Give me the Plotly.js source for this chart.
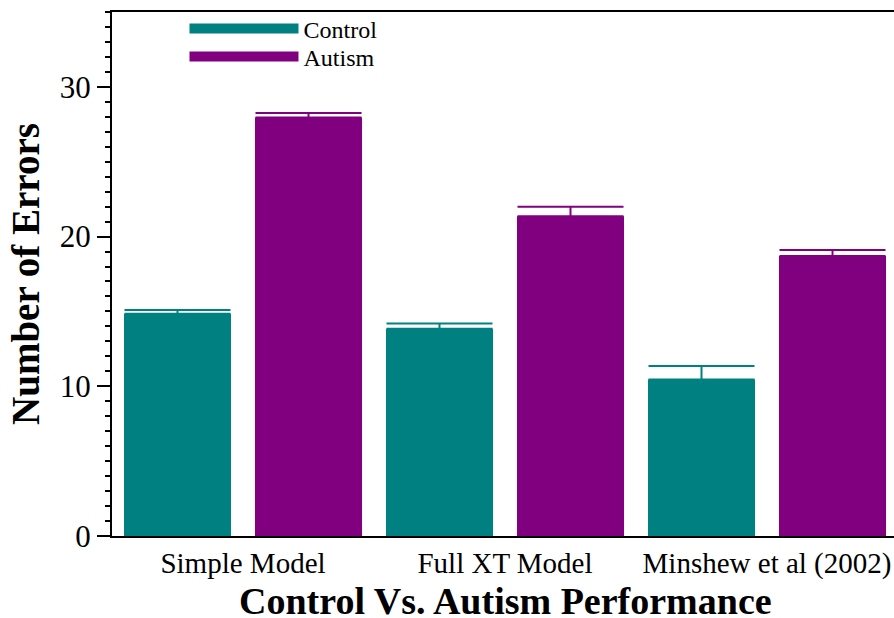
<!DOCTYPE html>
<html>
<head>
<meta charset="utf-8">
<script src="https://cdn.plot.ly/plotly-3.0.1.min.js"></script>
<style>html,body{margin:0;padding:0;background:#fff;}#chart{width:894px;height:618px;}</style>
</head>
<body>
<div id="chart"></div>
<script>
const categories = ["Simple Model", "Full XT Model", "Minshew et al (2002)"];
const seriesNames = ["Control", "Autism"];
const controlValues = [14.85, 13.85, 10.45];
const controlErrors = [0.25, 0.35, 0.9];
const autismValues = [27.95, 21.35, 18.7];
const autismErrors = [0.3, 0.65, 0.4];
const yTickVals = [0, 10, 20, 30];
const xTitle = "Control Vs. Autism Performance";
const yTitle = "Number of Errors";

const teal = "#008080";
const purple = "#800080";
const serif = "Liberation Serif";

const traces = [
  {
    type: "bar", name: seriesNames[0], x: categories, y: controlValues,
    marker: {color: teal, line: {width: 0}}, showlegend: false,
    error_y: {type: "data", symmetric: false, array: controlErrors, arrayminus: [0,0,0],
              color: teal, thickness: 2, width: 53}
  },
  {
    type: "bar", name: seriesNames[1], x: categories, y: autismValues,
    marker: {color: purple, line: {width: 0}}, showlegend: false,
    error_y: {type: "data", symmetric: false, array: autismErrors, arrayminus: [0,0,0],
              color: purple, thickness: 2, width: 53}
  },
  {type: "scatter", mode: "lines", name: seriesNames[0], x: [null], y: [null],
   line: {color: teal, width: 10}, showlegend: true, hoverinfo: "skip", legend: "legend"},
  {type: "scatter", mode: "lines", name: seriesNames[1], x: [null], y: [null],
   line: {color: purple, width: 10}, showlegend: true, hoverinfo: "skip", legend: "legend2"}
];

function legendAt(y) {
  return {
    x: 0.0927, y: y, xanchor: "left", yanchor: "middle", xref: "paper", yref: "paper",
    font: {family: serif, size: 24, color: "#000"},
    itemwidth: 109, bgcolor: "rgba(0,0,0,0)", borderwidth: 0
  };
}

const layout = {
  width: 894, height: 618,
  margin: {l: 112, r: 0, t: 12, b: 82},
  paper_bgcolor: "#fff", plot_bgcolor: "#fff",
  barmode: "group", bargap: 0, bargroupgap: 0.183,
  font: {family: serif, color: "#000"},
  showlegend: true,
  legend: legendAt(0.9676),
  legend2: legendAt(0.9141),
  xaxis: {
    type: "category", range: [-0.5, 2.4847],
    showline: true, linecolor: "#000", linewidth: 2, mirror: true,
    ticks: "", showgrid: false, zeroline: false,
    tickfont: {family: serif, size: 29, color: "#000"}
  },
  yaxis: {
    range: [0, 35], tickvals: yTickVals, ticktext: yTickVals.map(String),
    showline: true, linecolor: "#000", linewidth: 2, mirror: false,
    ticks: "outside", ticklen: 13, tickwidth: 2, tickcolor: "#000",
    minor: {dtick: 1, tick0: 0, ticks: "outside", ticklen: 5, tickwidth: 2, tickcolor: "#000", showgrid: false},
    showgrid: false, zeroline: false,
    tickfont: {family: serif, size: 31, color: "#000"},
    title: {text: "<b>" + yTitle + "</b>", font: {family: serif, size: 39, color: "#000"}, standoff: 8}
  },
  annotations: [
    {text: "<b>" + xTitle + "</b>", xref: "paper", yref: "paper", x: 0.5026, y: -0.1240,
     xanchor: "center", yanchor: "middle", showarrow: false,
     font: {family: serif, size: 38, color: "#000"}}
  ]
};

Plotly.newPlot("chart", traces, layout, {displayModeBar: false, staticPlot: true});
</script>
</body>
</html>
